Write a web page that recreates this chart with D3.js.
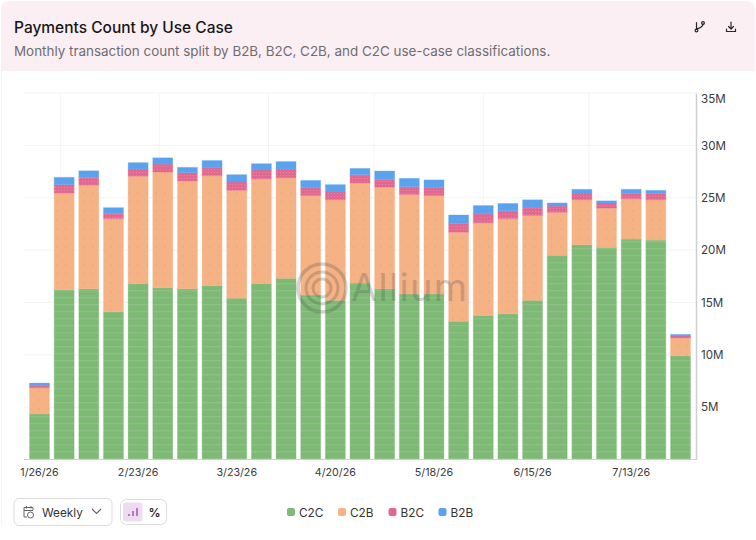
<!DOCTYPE html>
<html><head><meta charset="utf-8">
<script src="https://cdn.jsdelivr.net/npm/d3@7"></script>
<style>html,body{margin:0;padding:0;background:#fff}svg{display:block}text{font-family:Inter,"Noto Sans",sans-serif}</style>
</head><body><svg id="c" width="756" height="540"></svg>
<script>
const title="Payments Count by Use Case";
const subtitle="Monthly transaction count split by B2B, B2C, C2B, and C2C use-case classifications.";
const weeks=["2026-01-26","2026-02-02","2026-02-09","2026-02-16","2026-02-23","2026-03-02","2026-03-09","2026-03-16","2026-03-23","2026-03-30","2026-04-06","2026-04-13","2026-04-20","2026-04-27","2026-05-04","2026-05-11","2026-05-18","2026-05-25","2026-06-01","2026-06-08","2026-06-15","2026-06-22","2026-06-29","2026-07-06","2026-07-13","2026-07-20","2026-07-27"];
const tickWeeks=["2026-01-26","2026-02-23","2026-03-23","2026-04-20","2026-05-18","2026-06-15","2026-07-13"];
const gridMonths=["2026-02-01","2026-03-01","2026-04-01","2026-05-01","2026-06-01","2026-07-01"];
const yTicks=[5,10,15,20,25,30,35];
const seriesNames=["C2C","C2B","B2C","B2B"];
const seriesColors=["#7eba76","#f5b285","#e2688f","#5aa2ee"];
const c2c=[4.35,16.2,16.3,14.1,16.8,16.4,16.3,16.6,15.4,16.8,17.3,15.7,15.2,16.85,16.3,15.8,15.8,13.2,13.75,13.9,15.2,19.5,20.5,20.25,21.05,20.95,9.9];
const c2b=[2.5,9.25,9.9,8.9,10.25,11.05,10.3,10.5,10.3,10.0,9.6,9.5,9.6,9.55,9.7,9.5,9.4,8.5,8.85,9.1,8.1,4.1,4.3,3.75,3.85,3.85,1.7];
const b2c=[0.25,0.8,0.73,0.52,0.7,0.76,0.8,0.75,0.8,0.85,0.85,0.75,0.75,0.8,0.75,0.75,0.75,0.85,0.85,0.75,0.8,0.6,0.65,0.5,0.5,0.6,0.2];
const b2b=[0.2,0.7,0.64,0.53,0.6,0.6,0.5,0.7,0.7,0.6,0.7,0.7,0.7,0.6,0.8,0.8,0.75,0.8,0.8,0.7,0.7,0.3,0.35,0.2,0.4,0.3,0.15];
const seriesValues=[c2c,c2b,b2c,b2b];

const svg=d3.select("#c");
const defs=svg.append("defs");
const pg=defs.append("pattern").attr("id","t0").attr("width",8).attr("height",7).attr("patternUnits","userSpaceOnUse");
pg.append("rect").attr("width",8).attr("height",7).attr("fill",seriesColors[0]);
pg.append("rect").attr("y",3).attr("width",8).attr("height",1.2).attr("fill","#a5cf9e").attr("opacity",.35);
const po=defs.append("pattern").attr("id","t1").attr("width",9).attr("height",9).attr("patternUnits","userSpaceOnUse");
po.append("rect").attr("width",9).attr("height",9).attr("fill",seriesColors[1]);
po.append("circle").attr("cx",3).attr("cy",4).attr("r",.8).attr("fill","#e5a57a");
const pp=defs.append("pattern").attr("id","t2").attr("width",3).attr("height",3).attr("patternUnits","userSpaceOnUse");
pp.append("rect").attr("width",3).attr("height",3).attr("fill",seriesColors[2]);
pp.append("circle").attr("cx",1.5).attr("cy",1.5).attr("r",.6).attr("fill","#e98aa9");
const pb=defs.append("pattern").attr("id","t3").attr("width",6).attr("height",6).attr("patternUnits","userSpaceOnUse");
pb.append("rect").attr("width",6).attr("height",6).attr("fill",seriesColors[3]);
pb.append("circle").attr("cx",3).attr("cy",3).attr("r",.8).attr("fill","#66aaef");

svg.append("path").attr("d","M1.500 71V525").attr("stroke","#f4f4f5").attr("fill","none");
svg.append("path").attr("d","M1 71V9a8 8 0 0 1 8-8H747a8 8 0 0 1 8 8V71Z").attr("fill","#fceff3");
svg.append("text").attr("x",14).attr("y",33).attr("font-size",15.5).attr("font-weight",500).attr("fill","#16161a").text(title);
svg.append("text").attr("x",14).attr("y",56).attr("font-size",13.42).attr("fill","#6d6d72").text(subtitle);
const ic=svg.append("g").attr("fill","none").attr("stroke","#26262a").attr("stroke-width",1.2).attr("stroke-linecap","round").attr("stroke-linejoin","round");
ic.append("path").attr("d","M696.500 22.500v7M703 24c0 3-2.500 3.500-6 5");
ic.append("circle").attr("cx",696.500).attr("cy",30.5).attr("r",1.4);
ic.append("circle").attr("cx",703).attr("cy",23).attr("r",1.4);
ic.append("path").attr("d","M731 22v6.500M728.500 26.500l2.500 2.500 2.500-2.500M726.500 29v2.500h9V29");

const parse=d3.utcParse("%Y-%m-%d");
const fmtTick=d3.utcFormat("%-m/%-d/%y");
const x=d3.scaleBand().domain(weeks).range([27.3,692.7]).paddingInner(0.19).paddingOuter(0.09);
const t=d3.scaleUtc().domain([parse(weeks[0]),parse(weeks[26])]).range([x(weeks[0])+x.bandwidth()/2,x(weeks[26])+x.bandwidth()/2]);
const y=d3.scaleLinear().domain([0,35]).range([459.5,93]);

const g=svg.append("g");
g.append("g").selectAll("line").data(yTicks).join("line").attr("x1",24).attr("x2",696).attr("y1",d=>y(d)).attr("y2",d=>y(d)).attr("stroke","#f4f4f5");
g.append("g").selectAll("line").data(gridMonths).join("line").attr("x1",d=>t(parse(d))).attr("x2",d=>t(parse(d))).attr("y1",93).attr("y2",459.5).attr("stroke","#f4f4f5");

const stack=d3.stack().keys(d3.range(4)).value((d,k)=>seriesValues[k][d])(d3.range(weeks.length));
g.selectAll("g.s").data(stack).join("g").attr("class","s").selectAll("rect").data((s,k)=>s.map((d,i)=>({d,i,k}))).join("rect")
 .attr("x",o=>x(weeks[o.i])).attr("width",x.bandwidth()).attr("y",o=>y(o.d[1])).attr("height",o=>y(o.d[0])-y(o.d[1]))
 .attr("fill",o=>`url(#t${o.k})`).attr("stroke",o=>seriesColors[o.k]).attr("stroke-opacity",.3).attr("stroke-width",1);

const wm=svg.append("g").attr("opacity",.24).attr("fill","none").attr("stroke","#4a4a4a");
[24,16,9].forEach((r,i)=>wm.append("circle").attr("cx",322).attr("cy",288).attr("r",r).attr("stroke-width",i==0?3.5:3));
svg.append("text").attr("x",351).attr("y",301).attr("font-size",38).attr("fill","#4a4a4a").attr("opacity",.24).attr("letter-spacing",1.3).text("Allium");

const ax=d3.axisRight(y).tickValues(yTicks).tickSize(0).tickPadding(5).tickFormat(d=>d+"M");
const ya=svg.append("g").attr("transform","translate(696,0)").call(ax);
ya.select(".domain").attr("stroke","#cfcfd2").attr("stroke-width",1.5);
ya.selectAll("text").attr("font-size",11.6).attr("fill","#3a3a3e").style("font-family","Inter").attr("dy",d=>d===35?"0.82em":"0.32em");
const xa=d3.axisBottom(x).tickValues(tickWeeks).tickSize(0).tickPadding(9).tickFormat(d=>fmtTick(parse(d)));
const xg=svg.append("g").attr("transform","translate(0,459.5)").call(xa);
xg.select(".domain").attr("d","M24 0H696").attr("stroke","#cfcfd2").attr("stroke-width",1.2);
xg.selectAll("text").attr("font-size",10.7).attr("fill","#3a3a3e").style("font-family","Inter");

svg.append("rect").attr("x",14).attr("y",498.500).attr("width",98).attr("height",27).attr("rx",5).attr("fill","#fff").attr("stroke","#dcdcdf");
const cal=svg.append("g").attr("fill","none").attr("stroke","#666").attr("stroke-width",1);
cal.append("path").attr("d","M27 517h-3v-9.500h9v2.500M24 510.500h9M26.500 506v2.500M31 506v2.500");
cal.append("circle").attr("cx",30.500).attr("cy",515).attr("r",3);
svg.append("text").attr("x",42).attr("y",517).attr("font-size",11.8).attr("fill","#333").text("Weekly");
svg.append("path").attr("d","M92 509l4.500 4.500 4.500-4.500").attr("fill","none").attr("stroke","#666").attr("stroke-width",1.2);
svg.append("rect").attr("x",120.500).attr("y",499.500).attr("width",46).attr("height",25).attr("rx",6).attr("fill","#fff").attr("stroke","#dcdcdf");
svg.append("rect").attr("x",123).attr("y",502.500).attr("width",19.500).attr("height",19).attr("rx",3).attr("fill","#eddcf0");
svg.append("path").attr("d","M129 516v-2M133 516v-5M137 516v-8").attr("stroke","#a561b5").attr("stroke-width",1.6).attr("fill","none");
svg.append("text").attr("x",154.500).attr("y",516.500).attr("text-anchor","middle").attr("font-size",12).attr("font-weight",600).attr("fill","#222").text("%");

const lx=[287,338,388.500,438.500];
const lg=svg.append("g").selectAll("g").data(seriesNames).join("g").attr("transform",(d,i)=>`translate(${lx[i]},0)`);
lg.append("rect").attr("y",508).attr("width",8).attr("height",8).attr("rx",2).attr("fill",(d,i)=>seriesColors[i]);
lg.append("text").attr("x",12).attr("y",517).attr("font-size",11.8).attr("fill","#333").text(d=>d);
</script></body></html>
